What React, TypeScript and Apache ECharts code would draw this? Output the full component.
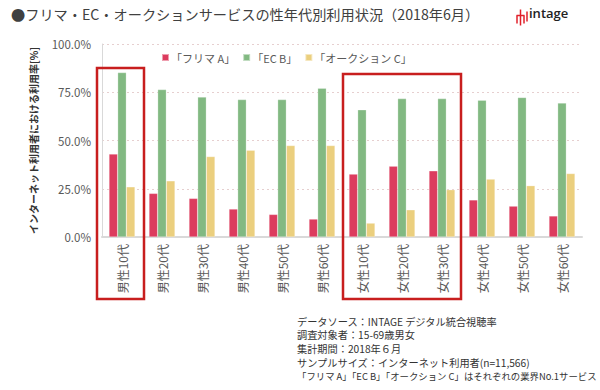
import React, { useEffect, useRef } from "react";
import * as echarts from "echarts";

const categories = [
  "男性10代", "男性20代", "男性30代", "男性40代", "男性50代", "男性60代",
  "女性10代", "女性20代", "女性30代", "女性40代", "女性50代", "女性60代",
];
const seriesNames = ["「フリマ A」", "「EC B」", "「オークション C」"];
const fleaMarketA = [43.0, 22.6, 20.0, 14.5, 11.7, 9.3, 32.6, 36.7, 34.3, 19.2, 16.0, 10.9];
const ecB = [85.2, 76.4, 72.5, 71.2, 71.2, 77.1, 65.9, 71.7, 71.7, 70.9, 72.3, 69.4];
const auctionC = [26.0, 29.1, 41.7, 45.0, 47.4, 47.4, 7.2, 14.1, 24.5, 30.0, 26.6, 32.9];
const yTicks = [0, 25, 50, 75, 100];
const colors = ["#DC3C5E", "#82B982", "#EBCF7E"];
const notes = [
  "データソース：INTAGE デジタル統合視聴率",
  "調査対象者：15-69歳男女",
  "集計期間：2018年６月",
  "サンプルサイズ：インターネット利用者(n=11,566)",
  "「フリマ A」「EC B」「オークション C」はそれぞれの業界No.1サービス",
];

const FONT = "'Noto Sans CJK JP', 'Noto Sans', sans-serif";

export default function App() {
  const ref = useRef<HTMLDivElement>(null);
  useEffect(() => {
    if (!ref.current) return;
    const chart = echarts.init(ref.current, null, { renderer: "svg" });
    const data = [fleaMarketA, ecB, auctionC];
    chart.setOption({
      animation: false,
      textStyle: { fontFamily: FONT },
      grid: { left: 102, right: 18, top: 44, bottom: 153 },
      legend: {
        data: seriesNames,
        left: 156,
        top: 47,
        itemWidth: 7,
        itemHeight: 7,
        itemGap: 7,
        icon: "rect",
        textStyle: { fontSize: 11, color: "#595959", fontFamily: FONT, padding: [0, 0, 0, -3] },
      },
      xAxis: {
        type: "category",
        data: categories,
        axisLine: { lineStyle: { color: "#d9d9d9", width: 2 } },
        axisTick: { show: false },
        axisLabel: {
          rotate: 90,
          fontSize: 12,
          color: "#595959",
          margin: 7,
          fontFamily: FONT,
        },
      },
      yAxis: {
        type: "value",
        min: 0,
        max: 100,
        interval: 25,
        name: "インターネット利用者における利用率[%]",
        nameLocation: "middle",
        nameRotate: 90,
        nameGap: 64,
        nameTextStyle: { fontSize: 10, fontWeight: "bold", color: "#333", fontFamily: FONT },
        axisLine: { show: true, lineStyle: { color: "#d9d9d9", width: 1 } },
        axisTick: { show: false },
        axisLabel: {
          fontSize: 11.5,
          color: "#595959",
          margin: 11,
          fontFamily: FONT,
          formatter: (v: number) => (yTicks.includes(v) ? v.toFixed(1) + "%" : ""),
        },
        splitLine: { lineStyle: { color: "#e6cfcf", type: [2, 3], width: 1 } },
      },
      series: seriesNames.map((name, i) => ({
        name,
        type: "bar",
        data: data[i],
        barGap: "0%",
        barCategoryGap: "35%",
        itemStyle: { color: colors[i], borderColor: "rgba(255,255,255,0.5)", borderWidth: 0.5 },
      })),
      graphic: [
        {
          type: "text",
          left: 11,
          top: 7,
          style: {
            text: "●フリマ・EC・オークションサービスの性年代別利用状況（2018年6月）",
            fontSize: 14.2,
            fill: "#404040",
            fontFamily: FONT,
          },
        },
        // logo icon
        {
          type: "group",
          left: 514,
          top: 7,
          children: [
            { type: "line", shape: { x1: 4, y1: 0, x2: 4, y2: 16 }, style: { stroke: "#e0202a", lineWidth: 1.5 } },
            { type: "line", shape: { x1: 0, y1: 6, x2: 8, y2: 6 }, style: { stroke: "#e0202a", lineWidth: 1.5 } },
            { type: "line", shape: { x1: 0.5, y1: 6, x2: 0.5, y2: 14 }, style: { stroke: "#e0202a", lineWidth: 1.5 } },
            { type: "line", shape: { x1: 7.5, y1: 6, x2: 7.5, y2: 14 }, style: { stroke: "#e0202a", lineWidth: 1.5 } },
            { type: "line", shape: { x1: 10.5, y1: 2, x2: 10.5, y2: 12 }, style: { stroke: "#e0202a", lineWidth: 1.5 } },
          ],
        },
        {
          type: "text",
          left: 529,
          top: 6,
          style: { text: "intage", fontSize: 13, fontWeight: 600, fill: "#222", fontFamily: "'Open Sans', sans-serif" },
        },
        // highlight boxes
        {
          type: "rect",
          shape: { x: 97, y: 68, width: 47, height: 231 },
          style: { fill: "none", stroke: "#c81e1e", lineWidth: 2.5 },
          z: 100,
        },
        {
          type: "rect",
          shape: { x: 343, y: 74, width: 118, height: 225 },
          style: { fill: "none", stroke: "#c81e1e", lineWidth: 2.5 },
          z: 100,
        },
        ...notes.map((t, i) => ({
          type: "text",
          left: 297,
          top: 316 + i * 13.8,
          style: { text: t, fontSize: i === notes.length - 1 ? 9.4 : 10.2, fill: "#333", fontFamily: FONT },
        })),
      ],
    });
    return () => chart.dispose();
  }, []);
  return <div ref={ref} style={{ width: 600, height: 390, position: "absolute", left: 0, top: 0 }} />;
}
